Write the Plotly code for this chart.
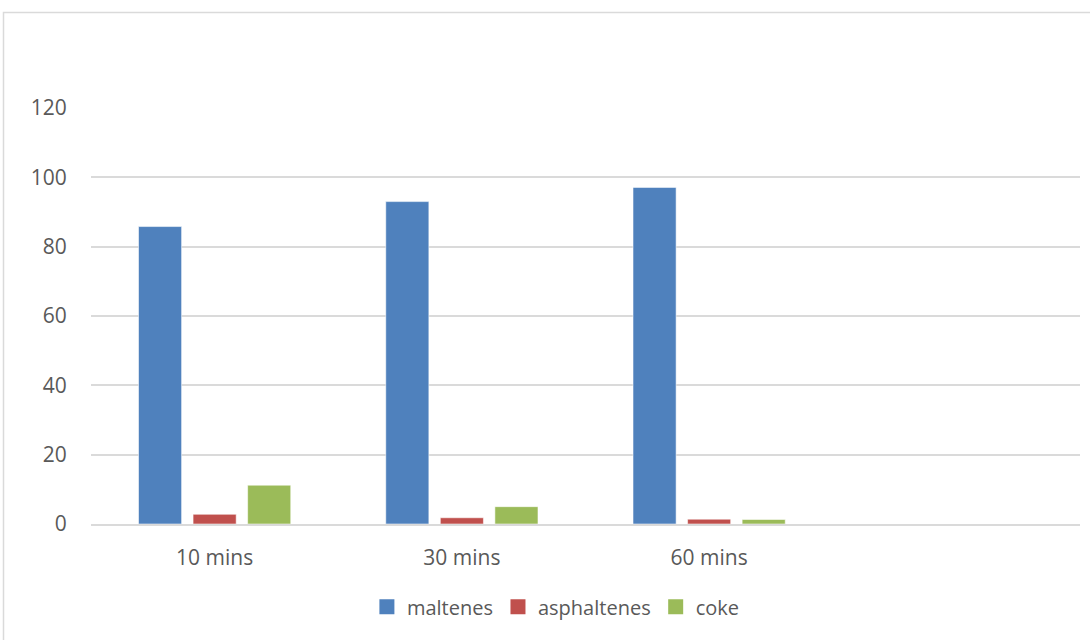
import plotly.graph_objects as go

# Product distribution by reaction time
categories = ["10 mins", "30 mins", "60 mins"]
maltenes = [85.8, 93.0, 97.1]
asphaltenes = [2.8, 1.8, 1.4]
coke = [11.2, 5.0, 1.3]
y_ticks = [0, 20, 40, 60, 80, 100, 120]

series = [
    ("maltenes", maltenes, "#4F81BD"),
    ("asphaltenes", asphaltenes, "#C0504D"),
    ("coke", coke, "#9BBB59"),
]

font_family = "Open Sans, Liberation Sans, sans-serif"
text_color = "#595959"
grid_color = "#DADADA"

fig = go.Figure()
for name, values, color in series:
    fig.add_trace(go.Bar(
        x=categories,
        y=values,
        name=name,
        showlegend=False,
        legendgroup=name,
        marker=dict(color=color, line=dict(color="rgba(255,255,255,0.55)", width=1)),
    ))

# square legend keys
for name, values, color in series:
    fig.add_trace(go.Scatter(
        x=[None], y=[None],
        mode="markers",
        name=name,
        legendgroup=name,
        marker=dict(symbol="square", size=15, color=color),
        showlegend=True,
    ))

fig.update_layout(
    width=1090,
    height=640,
    paper_bgcolor="white",
    plot_bgcolor="white",
    barmode="group",
    bargap=0.338,
    bargroupgap=0.21,
    margin=dict(l=91, r=10, t=108, b=116),
    font=dict(family=font_family, size=21, color=text_color),
    showlegend=True,
    legend=dict(
        orientation="h",
        xref="container", yref="container",
        x=0.51, xanchor="center",
        y=0.052, yanchor="middle",
        font=dict(size=20, color=text_color),
        itemwidth=30,
        traceorder="normal",
    ),
    xaxis=dict(
        type="category",
        categoryorder="array",
        categoryarray=categories,
        range=[-0.5, 3.5],
        showgrid=False,
        showline=True,
        linecolor=grid_color,
        linewidth=2,
        ticks="outside",
        ticklen=14,
        tickcolor="rgba(0,0,0,0)",
        tickfont=dict(size=21, color=text_color),
        zeroline=False,
    ),
    yaxis=dict(
        range=[0, 120],
        tickvals=y_ticks,
        showgrid=True,
        gridcolor=grid_color,
        gridwidth=2,
        showline=False,
        zeroline=False,
        ticks="outside",
        ticklen=19,
        tickcolor="rgba(0,0,0,0)",
        tickfont=dict(size=21, color=text_color),
    ),
    shapes=[
        # chart frame
        dict(
            type="rect",
            xref="paper", yref="paper",
            x0=(3.5 - 91) / 989, x1=1.2,
            y0=-0.6, y1=(524 - 12.5) / 416,
            line=dict(color=grid_color, width=1.5),
            fillcolor="rgba(0,0,0,0)",
            layer="below",
        )
    ],
)

fig.write_html("out.html")
